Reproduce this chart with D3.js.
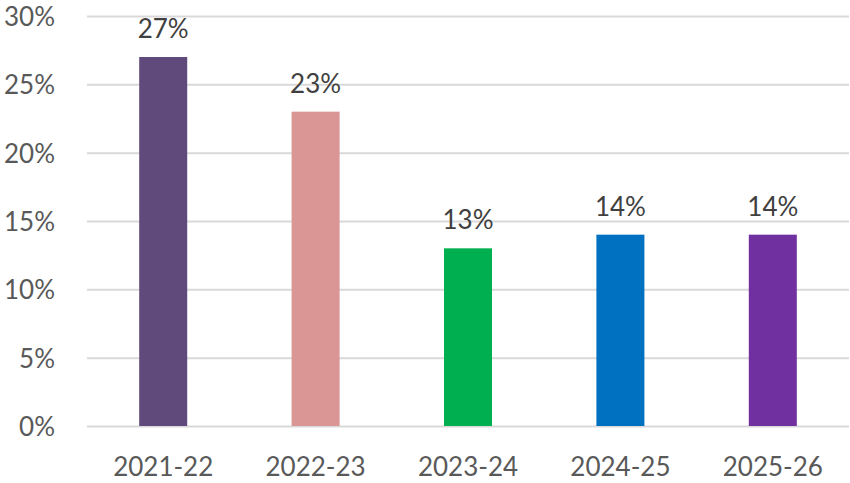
<!DOCTYPE html>
<html>
<head>
<meta charset="utf-8">
<script src="https://cdn.jsdelivr.net/npm/d3@7"></script>
<style>
  body { margin: 0; background: #fff; }
  svg text { font-family: Lato, "Open Sans", sans-serif; }
</style>
</head>
<body>
<svg id="chart" width="850" height="483"></svg>
<script>
// Data
const years = ["2021-22", "2022-23", "2023-24", "2024-25", "2025-26"];
const shares = [27, 23, 13, 14, 14];
const barColors = ["#604A7B", "#D99694", "#00B050", "#0070C0", "#7030A0"];
const yTicks = [0, 5, 10, 15, 20, 25, 30];

const svg = d3.select("#chart");
const margin = { top: 16, right: 1, bottom: 57, left: 87 };
const width = 850 - margin.left - margin.right;
const height = 483 - margin.top - margin.bottom;

const g = svg.append("g")
    .attr("transform", `translate(${margin.left},${margin.top})`);

const x = d3.scaleBand()
    .domain(years)
    .range([0, width])
    .paddingInner(0.685)
    .paddingOuter(0.3425);

const y = d3.scaleLinear()
    .domain([0, 30])
    .range([height, 0]);

/* gridlines + y labels */
const yAxis = g.append("g")
    .call(d3.axisLeft(y).tickValues(yTicks).tickSize(-width).tickFormat(d => d + "%"));
yAxis.select(".domain").remove();
yAxis.selectAll(".tick line")
    .attr("stroke", "#d9d9d9")
    .attr("stroke-width", 2);
yAxis.selectAll(".tick text")
    .attr("x", -32)
    .attr("dy", "0.37em")
    .attr("fill", "#595959")
    .attr("font-size", 26);

// bars
g.selectAll("rect.bar")
    .data(years)
    .join("rect")
        .attr("class", "bar")
        .attr("x", d => x(d))
        .attr("y", (d, i) => y(shares[i]))
        .attr("width", x.bandwidth())
        .attr("height", (d, i) => height - y(shares[i]))
        .attr("fill", (d, i) => barColors[i]);

// value labels
g.selectAll("text.val")
    .data(years)
    .join("text")
        .attr("class", "val")
        .text((d, i) => shares[i] + "%")
        .attr("x", d => x(d) + x.bandwidth() / 2)
        .attr("y", (d, i) => y(shares[i]) - 19)
        .attr("text-anchor", "middle")
        .attr("fill", "#404040")
        .attr("font-size", 26);

// x labels
const xAxis = g.append("g")
    .attr("transform", `translate(0,${height})`)
    .call(d3.axisBottom(x).tickSize(0));
xAxis.select(".domain").remove();
xAxis.selectAll(".tick text")
    .attr("y", 50)
    .attr("dy", 0)
    .attr("fill", "#595959")
    .attr("font-size", 26);
</script>
</body>
</html>
